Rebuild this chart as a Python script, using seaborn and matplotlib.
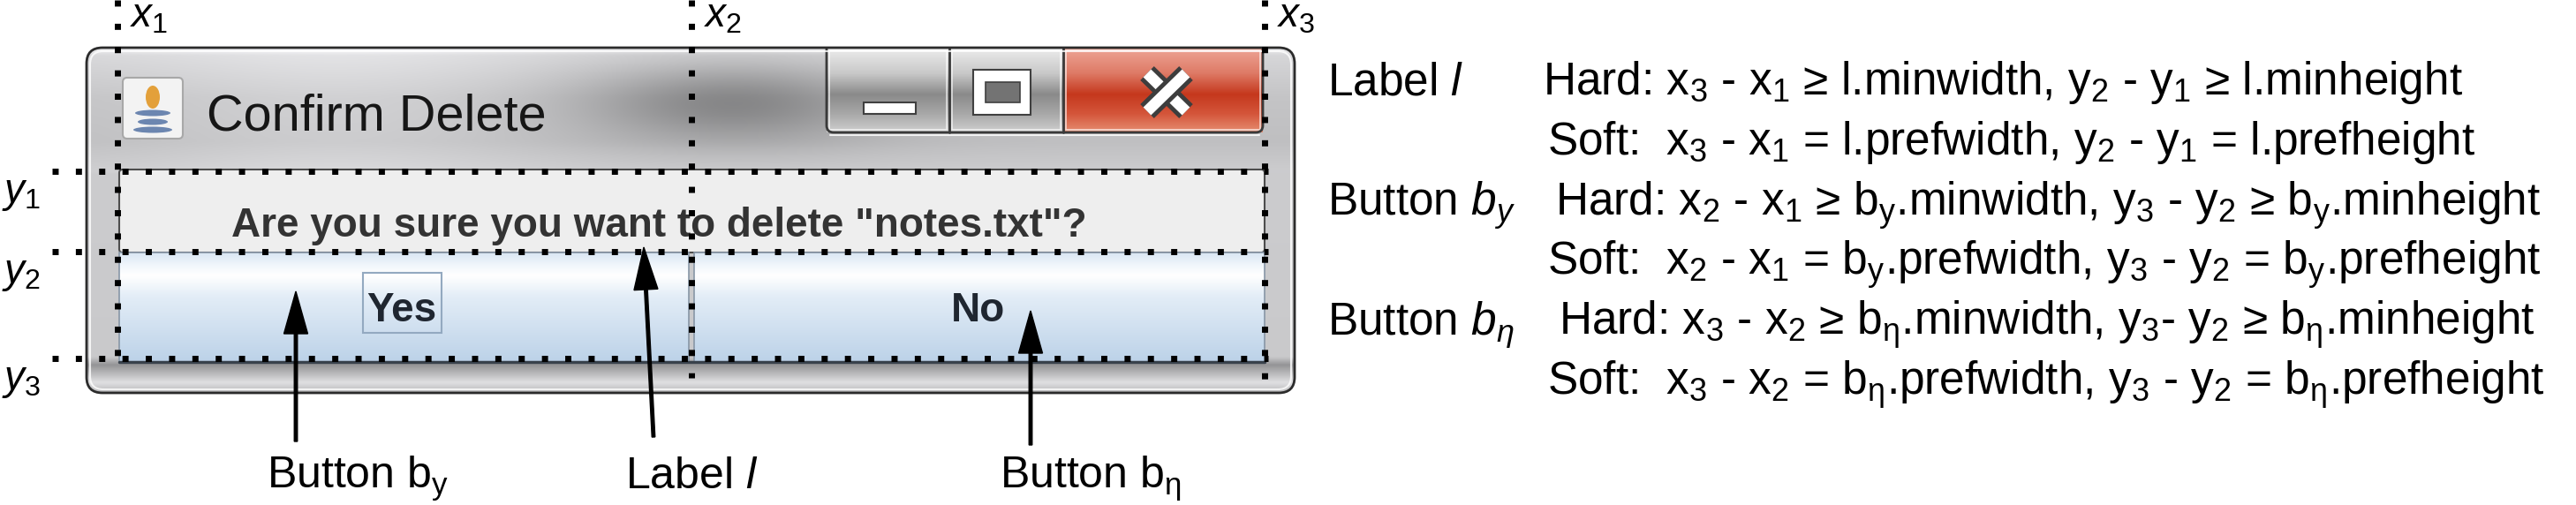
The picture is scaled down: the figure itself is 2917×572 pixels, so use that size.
import numpy as np
import matplotlib
matplotlib.use("Agg")
import matplotlib.pyplot as plt
from matplotlib.colors import to_rgb
from matplotlib.patches import FancyBboxPatch, Rectangle, Ellipse
import seaborn as sns

# layout guides (pixels)
x_guides = [133, 783, 1432]
y_guides = [194, 285, 406]
x_guide_ends = [420, 428, 432]
x_names = [r'$\mathit{x_1}$', r'$\mathit{x_2}$', r'$\mathit{x_3}$']
y_names = [r'$\mathit{y_1}$', r'$\mathit{y_2}$', r'$\mathit{y_3}$']

# dialog content
title = 'Confirm Delete'
message = 'Are you sure you want to delete "notes.txt"?'
buttons = ['Yes', 'No']
button_x = [455, 1108]

# callouts under the dialog
callouts = [r'Button b$_\mathrm{y}$', r'Label $l$', r'Button b$_\mathrm{η}$']
callout_x = [302, 708, 1132]
arrow_tail = [(335, 500), (740, 495), (1167, 504)]
arrow_tip = [(335, 330), (729, 280), (1167, 352)]

# constraints on the right
heads = [r'Label $l$', r'Button $b_y$', r'Button $b_η$']
hard_rules = [
    r'Hard: x$_3$ - x$_1$ ≥ l.minwidth, y$_2$ - y$_1$ ≥ l.minheight',
    r'Hard: x$_2$ - x$_1$ ≥ b$_\mathrm{y}$.minwidth, y$_3$ - y$_2$ ≥ b$_\mathrm{y}$.minheight',
    r'Hard: x$_3$ - x$_2$ ≥ b$_\mathrm{η}$.minwidth, y$_3$- y$_2$ ≥ b$_\mathrm{η}$.minheight',
]
soft_rules = [
    r'Soft:  x$_3$ - x$_1$ = l.prefwidth, y$_2$ - y$_1$ = l.prefheight',
    r'Soft:  x$_2$ - x$_1$ = b$_\mathrm{y}$.prefwidth, y$_3$ - y$_2$ = b$_\mathrm{y}$.prefheight',
    r'Soft:  x$_3$ - x$_2$ = b$_\mathrm{η}$.prefwidth, y$_3$ - y$_2$ = b$_\mathrm{η}$.prefheight',
]
hard_x = [1747, 1761, 1765]
head_base = [107, 244, 379]
soft_base = [175, 311, 447]

sns.set_theme(style="white")
plt.rcParams['font.family'] = ['Liberation Sans', 'DejaVu Sans']
plt.rcParams['mathtext.fontset'] = 'custom'
plt.rcParams['mathtext.rm'] = 'Liberation Sans'
plt.rcParams['mathtext.it'] = 'Liberation Sans:italic'
plt.rcParams['mathtext.bf'] = 'Liberation Sans:bold'


def shade(ax, x0, x1, y0, y1, stops, colors, clip=None, z=1):
    # vertical colour gradient between y0 (top) and y1 (bottom)
    t = np.linspace(0, 1, 256)
    rgb = np.array([to_rgb(c) for c in colors])
    col = np.stack([np.interp(t, stops, rgb[:, k]) for k in range(3)], axis=-1)
    img = np.repeat(col[:, None, :], 2, axis=1)
    im = ax.imshow(img, extent=(x0, x1, y1, y0), origin='upper', aspect='auto',
                   interpolation='bilinear', zorder=z)
    if clip is not None:
        im.set_clip_path(clip)
    return im


def rounded(x0, y0, x1, y1, r, **kw):
    return FancyBboxPatch((x0 + r, y0 + r), x1 - x0 - 2 * r, y1 - y0 - 2 * r,
                          boxstyle=f"round,pad={r},rounding_size={r}", **kw)


fig = plt.figure(figsize=(29.17, 5.72), dpi=100)
ax = fig.add_axes([0, 0, 1, 1])

# ---- window frame
win = rounded(98, 54, 1466, 445, 18, facecolor='none', edgecolor='none')
ax.add_patch(win)
fy = np.linspace(54, 445, 240)
fx = np.linspace(98, 1466, 480)
g = np.interp(fy, [54, 62, 110, 160, 192, 405, 414, 434, 445],
              [0.93, 0.84, 0.77, 0.75, 0.80, 0.79, 0.58, 0.88, 0.72])[:, None]
g = g + 0 * fx[None, :]
top = (fy < 195)[:, None]
g = g - 0.24 * top * np.exp(-((fx[None, :] - 830) / 170) ** 2 - ((fy[:, None] - 115) / 45) ** 2)
g = g + 0.05 * top * np.exp(-((fx[None, :] - 380) / 220) ** 2)
g = np.clip(g, 0, 1)
frame = ax.imshow(np.dstack([g, g, np.clip(g * 1.01, 0, 1)]), extent=(98, 1466, 445, 54),
                  origin='upper', aspect='auto', interpolation='bilinear', zorder=1)
frame.set_clip_path(win)
ax.add_patch(rounded(98, 54, 1466, 445, 18, facecolor='none', edgecolor='#2b2b2b', lw=2, zorder=6))
ax.add_patch(rounded(102, 58, 1462, 441, 15, facecolor='none', edgecolor='white', lw=1.5,
                     alpha=0.8, zorder=6))

# ---- title bar buttons
btn_edges = [936, 1075, 1204, 1430]
btn_cols = [['#ececec', '#c9c9c9', '#8a8a8a', '#a8a8a8', '#cfcfcf'],
            ['#ececec', '#c9c9c9', '#8a8a8a', '#a8a8a8', '#cfcfcf'],
            ['#eea596', '#de7a66', '#c5381d', '#d4553a', '#e68e72']]
for i in range(3):
    r = Rectangle((btn_edges[i], 54), btn_edges[i + 1] - btn_edges[i], 96,
                  facecolor='none', edgecolor='none')
    ax.add_patch(r)
    shade(ax, btn_edges[i], btn_edges[i + 1], 54, 150, [0, 0.3, 0.55, 0.78, 1], btn_cols[i], clip=r, z=2)
    ax.add_patch(Rectangle((btn_edges[i] + 3, 57), btn_edges[i + 1] - btn_edges[i] - 6, 90,
                           facecolor='none', edgecolor='white', lw=1.2, alpha=0.7, zorder=3))
strip = rounded(936, 30, 1430, 150, 8, facecolor='none', edgecolor='#3a3a3a', lw=2, zorder=4)
ax.add_patch(strip)
strip.set_clip_path(win)
for xe in btn_edges[1:3]:
    ax.plot([xe, xe], [54, 150], color='#3a3a3a', lw=2, zorder=4)
ax.plot([940, 1426], [153, 153], color='white', lw=1.5, alpha=0.8, zorder=4)
# glyphs
ax.add_patch(Rectangle((978, 116), 59, 13, facecolor='white', edgecolor='#404040', lw=1.5, zorder=5))
ax.add_patch(Rectangle((1102, 79), 65, 51, facecolor='white', edgecolor='#404040', lw=1.5, zorder=5))
ax.add_patch(Rectangle((1116, 93), 39, 23, facecolor='#737373', edgecolor='#404040', lw=1.2, zorder=5))
for (a, b), (c, d) in [((1299, 83), (1343, 126)), ((1343, 83), (1299, 126))]:
    ax.plot([a, c], [b, d], color='#3d3d3d', lw=16, solid_capstyle='butt', zorder=5)
    ax.plot([a, c], [b, d], color='white', lw=9, solid_capstyle='butt', zorder=5)

# ---- java icon
ax.add_patch(rounded(139, 88, 207, 157, 5, facecolor='#f3f3f3', edgecolor='#a8a8a8', lw=1.5, zorder=3))
ax.add_patch(Ellipse((173, 110), 16, 26, facecolor='#e3a03a', edgecolor='none', zorder=4))
for yy, w in [(128, 40), (138, 34), (147, 44)]:
    ax.add_patch(Ellipse((173, yy), w, 7, facecolor='#6c86b0', edgecolor='none', zorder=4))

ax.text(234, 148, title, fontsize=41.5, color='#161616', va='baseline', zorder=5)

# ---- content panel
ax.add_patch(rounded(135, 192, 1432, 286, 4, facecolor='#eeeeee', edgecolor='#4d4d4d', lw=1.5, zorder=3))
ax.text(262, 268, message, fontsize=33, fontweight='bold', color='#333333', va='baseline', zorder=5)

for x0, x1 in [(135, 780), (786, 1432)]:
    r = Rectangle((x0, 286), x1 - x0, 124, facecolor='none', edgecolor='none')
    ax.add_patch(r)
    shade(ax, x0, x1, 286, 410, [0, 0.12, 0.21, 0.4, 1],
          ['#d9e6f3', '#f2f7fc', '#ffffff', '#e3edf7', '#bcd2e8'], clip=r, z=3)
    ax.add_patch(Rectangle((x0, 286), x1 - x0, 124, facecolor='none', edgecolor='#8796a6',
                           lw=1.2, zorder=4))
ax.plot([135, 1432], [410, 410], color='#38414b', lw=2.5, zorder=4)
ax.add_patch(Rectangle((411, 309), 89, 68, facecolor='none', edgecolor='#93a9c0', lw=1.5, zorder=5))
for lab, bx in zip(buttons, button_x):
    ax.text(bx, 364, lab, fontsize=33, fontweight='bold', color='#1f2630', ha='center',
            va='baseline', zorder=5)

# ---- dotted guides
dots = dict(color='black', lw=5, ls=(0, (1, 2.8)), dash_capstyle='butt', zorder=8)
for xg, ye, nm in zip(x_guides, x_guide_ends, x_names):
    ax.plot([xg, xg], [0, ye], **dots)
    ax.text(xg + 14, 30, nm, fontsize=33, va='baseline', color='black')
for yg, nm in zip(y_guides, y_names):
    ax.plot([59, 1436], [yg, yg], **dots)
    ax.text(2, yg + 35, nm, fontsize=33, va='baseline', color='black')

# ---- callout arrows and labels
for (tx, ty), (hx, hy) in zip(arrow_tail, arrow_tip):
    ax.arrow(tx, ty, hx - tx, hy - ty, width=3.5, head_width=27, head_length=48,
             length_includes_head=True, color='black', zorder=9)
for lab, cx in zip(callouts, callout_x):
    ax.text(cx, 553, lab, fontsize=36, va='baseline', color='black')

# ---- constraint text
for i in range(3):
    ax.text(1503, head_base[i], heads[i], fontsize=37, va='baseline', color='black')
    ax.text(hard_x[i], head_base[i], hard_rules[i], fontsize=37, va='baseline', color='black')
    ax.text(1752, soft_base[i], soft_rules[i], fontsize=37, va='baseline', color='black')

ax.set_xlim(0, 2917)
ax.set_ylim(572, 0)
ax.axis('off')
fig.savefig('out.png', dpi=100, facecolor='white')
